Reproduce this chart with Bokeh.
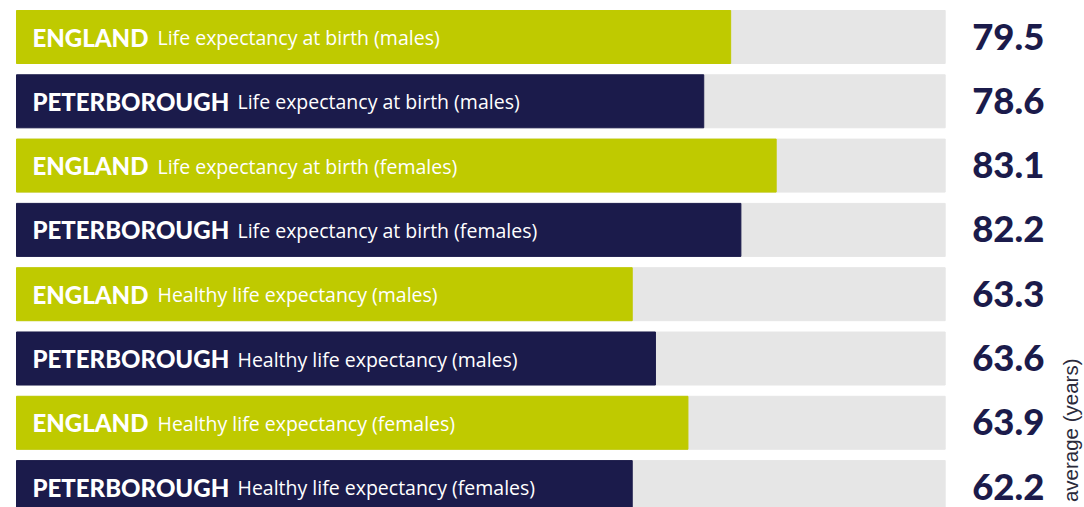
from bokeh.plotting import figure
from bokeh.models import ColumnDataSource, Range1d
from bokeh.core.properties import value
from bokeh.embed import file_html
from bokeh.resources import INLINE
import math

# ---- data ----
regions = ["ENGLAND", "PETERBOROUGH", "ENGLAND", "PETERBOROUGH",
           "ENGLAND", "PETERBOROUGH", "ENGLAND", "PETERBOROUGH"]
measures = ["Life expectancy at birth (males)", "Life expectancy at birth (males)",
            "Life expectancy at birth (females)", "Life expectancy at birth (females)",
            "Healthy life expectancy (males)", "Healthy life expectancy (males)",
            "Healthy life expectancy (females)", "Healthy life expectancy (females)"]
values = [79.5, 78.6, 83.1, 82.2, 63.3, 63.6, 63.9, 62.2]
# drawn bar length, percent of the grey track
bar_pct = [76.9, 74.0, 81.8, 78.0, 66.3, 68.8, 72.3, 66.3]
axis_label = "average (years)"

# ---- styles ----
LIME = "#bfca00"
NAVY = "#1b1b4b"
GREY = "#e6e6e6"
region_colors = {"ENGLAND": LIME, "PETERBOROUGH": NAVY}
measure_offsets = {"ENGLAND": 141, "PETERBOROUGH": 221}

W, H = 1084, 507
LEFT = 16            # pixel where the track starts
TRACK_PX = 928.7
PITCH = 64.3
FIRST_C = 36.5       # pixel centre of first row
px_x = TRACK_PX / 100.0

rows = list(range(len(values)))
src = ColumnDataSource(dict(
    y=rows,
    pct=bar_pct,
    full=[100] * len(rows),
    zero=[0] * len(rows),
    color=[region_colors[r] for r in regions],
    region=regions,
    measure=measures,
    mx=[measure_offsets[r] for r in regions],
    label=[f"{v:.1f}" for v in values],
))

x_start = -LEFT / px_x
x_end = (W - LEFT) / px_x
y_top = -FIRST_C / PITCH
y_bot = (H - FIRST_C) / PITCH

p = figure(width=W, height=H, output_backend="svg", toolbar_location=None,
           x_range=Range1d(x_start, x_end), y_range=Range1d(y_bot, y_top),
           min_border=0, outline_line_color=None)
p.axis.visible = False
p.grid.visible = False
p.background_fill_color = "white"
p.border_fill_color = "white"

bh = 53 / PITCH
p.hbar(y="y", left="zero", right="full", height=bh, color=GREY, source=src)
p.hbar(y="y", left="zero", right="pct", height=bh, color="color", source=src)

p.text(x=0, y="y", text="region", source=src, x_offset=16, y_offset=0,
       text_font=value("Lato Black"), text_font_size="24px",
       text_color="white", text_baseline="alphabetic", text_align="left")
p.text(x=0, y="y", text="measure", source=src, x_offset="mx", y_offset=0.5,
       text_font=value("Open Sans"), text_font_size="19.5px",
       text_color="white", text_baseline="alphabetic", text_align="left")
p.text(x=100, y="y", text="label", source=src, x_offset=27, y_offset=-0.5,
       text_font=value("Lato Black"), text_font_size="36.5px",
       text_color=NAVY, text_baseline="alphabetic", text_align="left")

p.text(x=[100], y=[len(values) - 1], text=[axis_label], x_offset=125, y_offset=15,
       angle=math.pi / 2, text_font=value("Liberation Sans"), text_font_size="20.5px",
       text_color="#2a2a3a", text_baseline="alphabetic", text_align="left")

open("out.html", "w").write(file_html(p, INLINE))
